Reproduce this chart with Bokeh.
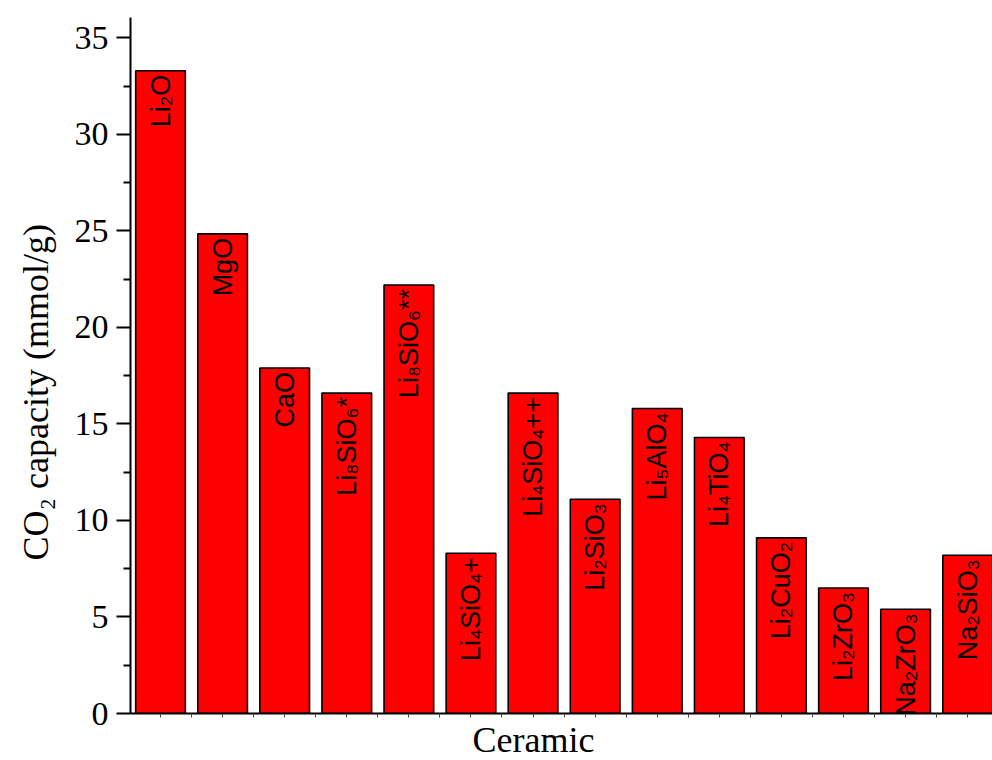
import math
from bokeh.plotting import figure
from bokeh.models import ColumnDataSource, FixedTicker, Range1d, Title
from bokeh.embed import file_html
from bokeh.resources import INLINE
from bokeh.core.properties import value

# ---- data ----
ceramics = ["Li₂O", "MgO", "CaO", "Li₈SiO₆*", "Li₈SiO₆**", "Li₄SiO₄+", "Li₄SiO₄++",
            "Li₂SiO₃", "Li₅AlO₄", "Li₄TiO₄", "Li₂CuO₂", "Li₂ZrO₃", "Na₂ZrO₃", "Na₂SiO₃"]
capacity = [33.3, 24.85, 17.9, 16.6, 22.2, 8.3, 16.6, 11.1, 15.8, 14.3, 9.1, 6.5, 5.4, 8.2]
positions = list(range(1, len(ceramics) + 1))
y_ticks = [0, 5, 10, 15, 20, 25, 30, 35]
y_minor = [t + 2.5 for t in y_ticks]
x_minor = [p_ + 0.5 for p_ in [0] + positions]

x_title = "Ceramic"
y_title = "CO₂ capacity (mmol/g)"

src = ColumnDataSource(dict(x=positions, top=capacity, label=ceramics))

p = figure(width=992, height=760,
           x_range=Range1d(0.5167, 14.40), y_range=Range1d(0, 36.06),
           output_backend="svg", toolbar_location=None,
           min_border_left=130, min_border_right=0,
           min_border_top=17, min_border_bottom=47)
p.outline_line_color = None
p.grid.visible = False
p.background_fill_color = "white"
p.border_fill_color = "white"

p.vbar(x="x", top="top", bottom=0, width=0.8, source=src,
       fill_color="#FF0000", line_color="black", line_width=1.6)

p.text(x="x", y="top", text="label", source=src, angle=math.pi / 2,
       text_align="right", text_baseline="middle", y_offset=4,
       text_font=value("Liberation Sans"), text_font_size="27px",
       text_color="black")

# y axis
ya = p.yaxis[0]
ya.ticker = FixedTicker(ticks=y_ticks, minor_ticks=y_minor)
ya.axis_line_width = 2
ya.axis_line_color = "black"
ya.major_tick_line_width = 2
ya.minor_tick_line_width = 2
ya.major_tick_line_color = "black"
ya.minor_tick_line_color = "black"
ya.major_tick_out = 14
ya.major_tick_in = 0
ya.minor_tick_out = 7
ya.minor_tick_in = 0
ya.major_label_standoff = 8
ya.major_label_text_font = "Liberation Serif"
ya.major_label_text_font_size = "34px"
ya.major_label_text_color = "black"

# x axis
xa = p.xaxis[0]
xa.ticker = FixedTicker(ticks=positions, minor_ticks=x_minor)
xa.axis_line_width = 2
xa.axis_line_color = "black"
xa.major_tick_out = 4
xa.major_tick_in = 0
xa.minor_tick_out = 4
xa.minor_tick_in = 0
xa.major_tick_line_color = "#444444"
xa.minor_tick_line_color = "#444444"
xa.major_label_overrides = {i: "" for i in positions}
xa.major_label_text_font_size = "1px"
xa.major_label_standoff = 6

# axis titles
p.add_layout(Title(text=x_title, align="left", offset=342, standoff=0,
                   text_font="Liberation Serif", text_font_size="36px",
                   text_font_style="normal", text_color="black"), "below")
p.add_layout(Title(text=y_title, align="left", offset=153, standoff=28,
                   vertical_align="top",
                   text_font="Liberation Serif", text_font_size="36px",
                   text_font_style="normal", text_color="black"), "left")

open("out.html", "w").write(file_html(p, INLINE))
